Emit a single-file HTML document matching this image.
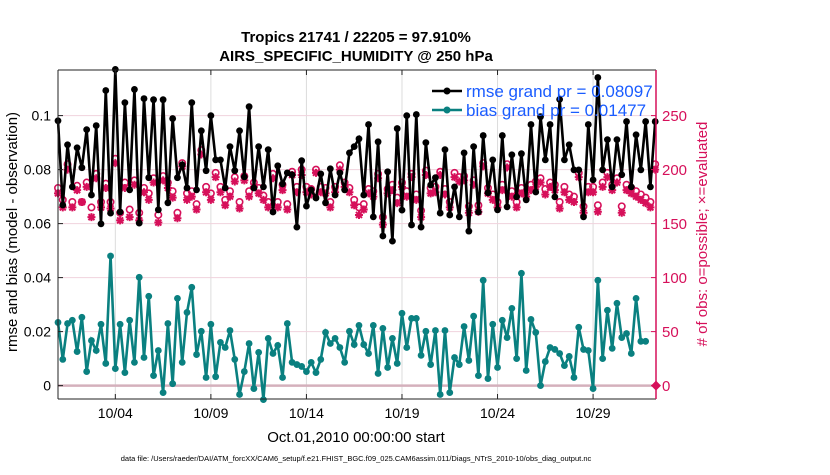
<!DOCTYPE html>
<html><head><meta charset="utf-8"><style>
body{margin:0;background:#fff;font-family:"Liberation Sans",Arial,sans-serif}
svg text{font-family:"Liberation Sans",Arial,sans-serif}
</style></head><body>
<svg id="chart" width="830" height="470" viewBox="0 0 830 470" xmlns="http://www.w3.org/2000/svg">
<rect width="830" height="470" fill="#fff"/>
<g id="grid"></g>
<g id="series"></g>
<g id="axes"></g>
<text x="356" y="42" text-anchor="middle" font-size="15" font-weight="bold">Tropics 21741 / 22205 = 97.910%</text>
<text x="356" y="61" text-anchor="middle" font-size="15" font-weight="bold">AIRS_SPECIFIC_HUMIDITY @ 250 hPa</text>
<text transform="translate(17,232) rotate(-90)" text-anchor="middle" font-size="15">rmse and bias (model - observation)</text>
<text transform="translate(707,234) rotate(-90)" text-anchor="middle" font-size="15" fill="#d6105a"># of obs: o=possible; ×=evaluated</text>
<text x="356" y="442" text-anchor="middle" font-size="15">Oct.01,2010 00:00:00 start</text>
<text x="356" y="461" text-anchor="middle" font-size="7.5">data file: /Users/raeder/DAI/ATM_forcXX/CAM6_setup/f.e21.FHIST_BGC.f09_025.CAM6assim.011/Diags_NTrS_2010-10/obs_diag_output.nc</text>
<g>
<line x1="432" y1="91" x2="462" y2="91" stroke="#000" stroke-width="2.5"/><circle cx="447" cy="91" r="3.5" fill="#000"/>
<text x="466" y="97" font-size="17" fill="#1a5cff">rmse grand pr = 0.08097</text>
<line x1="432" y1="110" x2="462" y2="110" stroke="#0a8080" stroke-width="2.5"/><circle cx="447" cy="110" r="3.5" fill="#0a8080"/>
<text x="466" y="116" font-size="17" fill="#1a5cff">bias grand pr = 0.01477</text>
</g>
</svg>
<script>
const rmse=[.0981,.0669,.0892,.0736,.0881,.0807,.0948,.0706,.0963,.0599,.1093,.0639,.1171,.0643,.1048,.0725,.1097,.0602,.1063,.077,.1059,.0651,.1059,.0677,.0989,.077,.0818,.0732,.1048,
.0725,.0944,.0796,.1,.0836,.0836,.0732,.0885,.0796,.0944,.0773,.1033,.0732,.0885,.0736,.0874,.0643,.0814,.0747,.0788,.0781,.0587,.0833,.0665,.0725,.0695,.0784,.0677,.0803,.0706,.0788,.0725,.0862,.0885,.0914,.0706,.0967,.0625,.0903,.0554,.0792,.0535,.0952,.065,.1,.0595,
.1004,.0587,.09,.0743,.077,.0639,.0874,.0632,.0736,.0625,.0862,.0572,.0885,.0643,.0926,.0714,.0836,.0651,.0926,.0662,.0855,.0699,.0859,.0688,.0967,.0717,.0996,.0836,.0967,.0699,.106,.0836,.0892,.0799,.0799,.0625,.0967,.0762,.1141,.0799,.0911,.0736,.0911,.0781,.0978,.0736,.0929,.0799,.0978,.0736,.0978];
const bias=[.0234,.0097,.023,.0242,.0126,.0253,.0052,.0167,.013,.0227,.0082,.048,.0063,.0227,.0048,.0242,.0086,.0401,.0104,.0331,.0037,.013,-.0026,.023,.0007,.0323,.0086,.0271,
.0364,.0115,.0201,.003,.0227,.0033,.016,.0141,.0204,.0097,-.0033,.0052,.0156,-.0011,.0123,-.0052,.0175,.0119,.0149,.003,.023,.0086,.0078,.0071,.0052,.0086,.0048,.0097,.0197,.0156,.0175,.0141,.0086,.0201,.0152,.0223,.0152,.0119,.0223,.0045,.0212,.0067,.0175,.0082,.0268,.0141,.0249,
.0249,.0112,.0201,.0078,.0204,-.0033,.0204,-.0026,.0104,.0078,.0219,.0093,.0257,.0037,.039,.0026,.0227,.0067,.0242,.0178,.0286,.01,.0416,.0056,.0245,.0197,0,.0089,.0141,.0134,.0119,.0074,.0108,.003,.0216,.0134,.013,-.0011,.039,.01,.0279,.0138,.0305,.0178,.0193,.0119,.0323,.0164,.0164];
const evaluated=[178,165,200,165,181,170,184,156,192,165,183,164,206,153,183,156,186,153,179,172,188,151,190,183,174,155,203,172,175,
163,214,179,172,193,179,167,175,189,164,190,175,184,178,172,165,192,165,181,163,195,179,195,179,177,197,179,178,165,179,200,184,179,167,158,163,178,175,192,149,178,181,169,184,175,193,
172,156,195,178,179,195,177,165,193,189,190,160,186,161,203,178,172,165,181,202,175,165,178,175,181,184,188,177,184,181,164,179,172,170,193,160,179,179,161,184,193,181,188,160,181,178,175,172,169,165,200];
const possible=[183,172,205,170,185,170,188,165,196,170,187,170,210,160,188,163,190,160,183,178,192,158,194,188,180,160,206,178,180,
168,218,184,178,197,184,172,180,193,170,194,180,188,183,176,170,196,170,186,168,198,184,200,184,182,200,184,183,170,184,204,188,183,172,165,168,182,180,196,156,182,186,174,188,180,196,
177,162,199,183,184,198,182,170,197,193,194,166,190,167,206,183,177,170,186,205,180,170,183,180,186,189,192,182,188,186,170,184,177,175,197,166,184,184,167,188,197,186,192,166,186,183,180,177,174,170,205];
const dayTicks=[3,8,13,18,23,28];
const dayLabels=["10/04","10/09","10/14","10/19","10/24","10/29"];
const yTicks=[0,0.02,0.04,0.06,0.08,0.1];
const yLabels=["0","0.02","0.04","0.06","0.08","0.1"];
const y2Ticks=[0,50,100,150,200,250];
const NS="http://www.w3.org/2000/svg";
const L=58,R=656,T=70,B=399;
const xs=d=>L+d*19.11;
const xi=i=>xs(i*0.25);
const ys=v=>385.6-v*2700;
const y2s=c=>385.6-c*270/250;
function mk(tag,at,parent){const e=document.createElementNS(NS,tag);for(const k in at)e.setAttribute(k,at[k]);parent.appendChild(e);return e;}
const grid=document.getElementById('grid'),ser=document.getElementById('series'),ax=document.getElementById('axes');
dayTicks.forEach((d,i)=>{
 const g=mk('line',{x1:xs(d),x2:xs(d),y1:T,y2:B,stroke:'#dcdcdc','stroke-width':1},grid);
 
 
 mk('line',{x1:xs(d),x2:xs(d),y1:B,y2:B-5,stroke:'#222'},ax);
 mk('line',{x1:xs(d),x2:xs(d),y1:T,y2:T+5,stroke:'#222'},ax);
 const t=mk('text',{x:xs(d),y:418,'text-anchor':'middle','font-size':14},ax);t.textContent=dayLabels[i];
 
 
});
yTicks.forEach((v,i)=>{
 if(v>0){const g=mk('line',{x1:L,x2:R,y1:ys(v),y2:ys(v),stroke:'#f0d3dd','stroke-width':1},grid);
 
 }
 mk('line',{x1:L,x2:L+5,y1:ys(v),y2:ys(v),stroke:'#222'},ax);
 const t=mk('text',{x:51,y:ys(v)+5,'text-anchor':'end','font-size':14},ax);t.textContent=yLabels[i];
 
 
});
y2Ticks.forEach(c=>{
 mk('line',{x1:R-5,x2:R,y1:y2s(c),y2:y2s(c),stroke:'#d6105a'},ax);
 const t=mk('text',{x:662,y:y2s(c)+5.5,'font-size':15,fill:'#d6105a'},ax);t.textContent=String(c);
 
 
});
const zl=mk('line',{x1:L,x2:R,y1:ys(0),y2:ys(0),stroke:'#d4b0bc','stroke-width':2.5},grid);


possible.forEach((c,i)=>{
 const m=mk('circle',{cx:xi(i),cy:y2s(c),r:3.2,fill:'none',stroke:'#d6105a','stroke-width':1.6},ser);
 
 
});
evaluated.forEach((c,i)=>{
 const x=xi(i),y=y2s(c);
 const m=mk('path',{d:`M${x-4},${y}H${x+4}M${x},${y-4}V${y+4}M${x-3},${y-3}L${x+3},${y+3}M${x-3},${y+3}L${x+3},${y-3}`,stroke:'#d6105a','stroke-width':2},ser);
 
 
});
function line(arr,col,name){
 const p=mk('polyline',{points:arr.map((v,i)=>xi(i)+','+ys(v)).join(' '),fill:'none',stroke:col,'stroke-width':2.6},ser);
 
 
 arr.forEach((v,i)=>{const c=mk('circle',{cx:xi(i),cy:ys(v),r:3.4,fill:col},ser);
 
 });
}
line(rmse,'#000','rmse');
line(bias,'#0a8080','bias');
mk('line',{x1:L,x2:R,y1:T,y2:T,stroke:'#222'},ax);
mk('line',{x1:L,x2:R,y1:B,y2:B,stroke:'#222'},ax);
mk('line',{x1:L,x2:L,y1:T,y2:B,stroke:'#222'},ax);
mk('line',{x1:R,x2:R,y1:T,y2:B,stroke:'#d6105a','stroke-width':1.5},ax);
const dm=mk('path',{d:`M${R-5},${ys(0)}L${R},${ys(0)-5}L${R+5},${ys(0)}L${R},${ys(0)+5}Z`,fill:'#d6105a'},ax);


</script>
</body></html>
